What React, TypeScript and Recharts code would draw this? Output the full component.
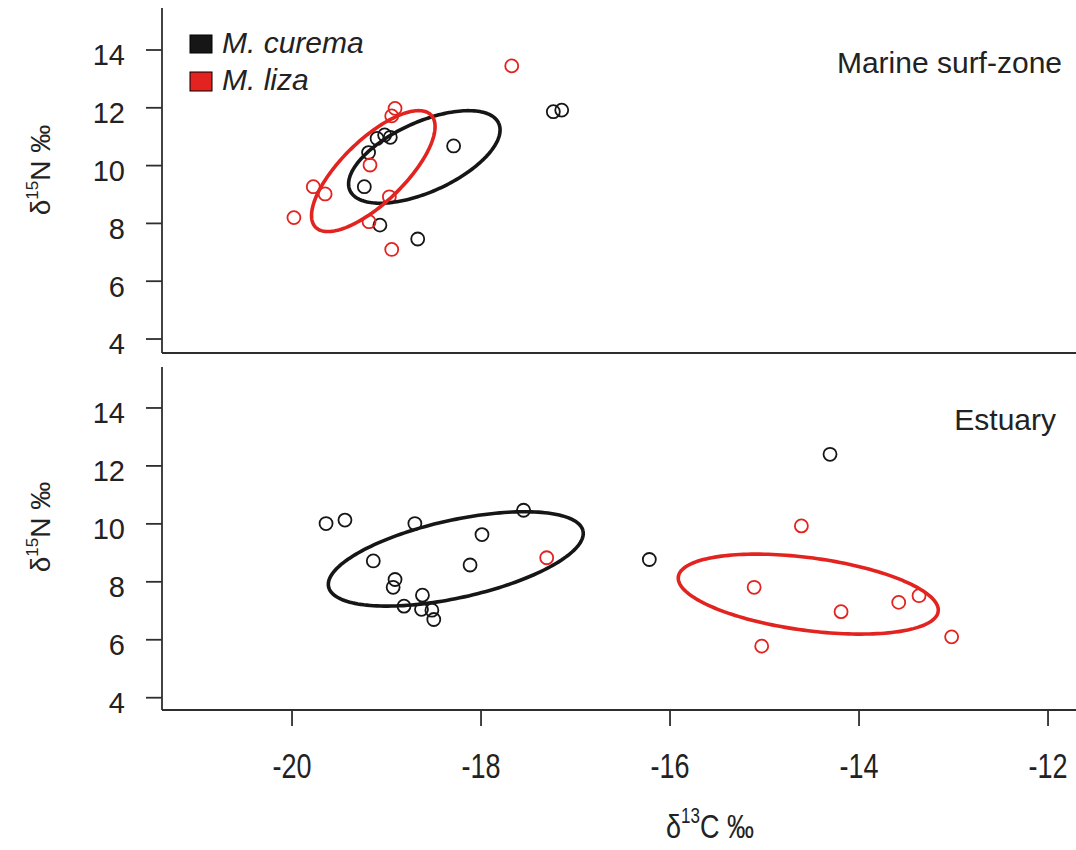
import { ScatterChart, Scatter, XAxis, YAxis } from 'recharts'

const FONT = '"Liberation Sans", Arial, Helvetica, sans-serif'
const BLACK = '#161616'
const RED = '#e2231f'
const AXIS = '#2e2e2e'

// δ13C / δ15N per fish, by site and species
const curemaMarine = [
  { x: -19.19, y: 10.45 }, { x: -19.1, y: 10.94 }, { x: -19.02, y: 11.06 }, { x: -18.96, y: 10.98 },
  { x: -18.29, y: 10.68 }, { x: -19.235, y: 9.27 }, { x: -19.07, y: 7.94 }, { x: -18.67, y: 7.46 },
  { x: -17.235, y: 11.865 }, { x: -17.146, y: 11.92 },
]
const lizaMarine = [
  { x: -17.675, y: 13.45 }, { x: -18.91, y: 11.98 }, { x: -18.945, y: 11.72 }, { x: -19.175, y: 10.02 },
  { x: -19.775, y: 9.27 }, { x: -19.65, y: 9.02 }, { x: -19.98, y: 8.2 }, { x: -18.97, y: 8.92 },
  { x: -19.185, y: 8.06 }, { x: -18.945, y: 7.1 },
]
const curemaEstuary = [
  { x: -19.64, y: 10.01 }, { x: -19.44, y: 10.13 }, { x: -18.7, y: 10.01 }, { x: -17.55, y: 10.47 },
  { x: -17.99, y: 9.63 }, { x: -19.14, y: 8.72 }, { x: -18.116, y: 8.58 }, { x: -18.91, y: 8.08 },
  { x: -18.93, y: 7.81 }, { x: -18.62, y: 7.54 }, { x: -18.815, y: 7.16 }, { x: -18.63, y: 7.05 },
  { x: -18.52, y: 7.02 }, { x: -18.5, y: 6.7 }, { x: -14.307, y: 12.4 }, { x: -16.219, y: 8.77 },
]
const lizaEstuary = [
  { x: -17.305, y: 8.83 }, { x: -14.61, y: 9.93 }, { x: -15.11, y: 7.81 }, { x: -14.19, y: 6.97 },
  { x: -13.58, y: 7.29 }, { x: -13.365, y: 7.52 }, { x: -13.02, y: 6.1 }, { x: -15.03, y: 5.78 },
]

// standard ellipses: centre plus two semi-axis vectors, all in data units
const ellCuremaMarine = { cx: -18.6, cy: 10.3, ax: 0.787, ay: 1.163, bx: -0.152, by: 1.1 }
const ellLizaMarine = { cx: -19.14, cy: 9.81, ax: 0.611, ay: 1.941, bx: -0.232, by: 0.779 }
const ellCuremaEstuary = { cx: -18.267, cy: 8.79, ax: 1.346, ay: 0.967, bx: -0.0886, by: 1.31 }
const ellLizaEstuary = { cx: -14.537, cy: 7.576, ax: 1.375, ay: -0.598, bx: 0.051, by: 1.244 }

const xTicks = [-20, -18, -16, -14, -12]
const yTicks = [4, 6, 8, 10, 12, 14]
const X_DOMAIN: [number, number] = [-21.376, -11.704]
const TOP_Y: [number, number] = [3.516, 15.453]
const BOTTOM_Y: [number, number] = [3.576, 15.414]

type Ell = { cx: number; cy: number; ax: number; ay: number; bx: number; by: number }

function outline(e: Ell, n = 180) {
  const pts = []
  for (let i = 0; i <= n; i++) {
    const t = (i / n) * Math.PI * 2
    pts.push({ x: e.cx + e.ax * Math.cos(t) + e.bx * Math.sin(t), y: e.cy + e.ay * Math.cos(t) + e.by * Math.sin(t) })
  }
  return pts
}

const ring = (color: string) => (p: any) =>
  <circle cx={p.cx} cy={p.cy} r={6.5} fill="none" stroke={color} strokeWidth={1.8} />

const noDot = () => <g />

function YTick({ x, y, payload }: any) {
  return (
    <text x={x} y={y + 5} dy="0.355em" textAnchor="end" fontSize={29} fill="#222" fontFamily={FONT}>
      {payload.value}
    </text>
  )
}

function XTick({ x, payload }: any) {
  return (
    <g transform={`translate(${x},778) scale(1,1.3)`}>
      <text x={0} y={0} textAnchor="middle" fontSize={27} fill="#222" fontFamily={FONT}>
        {payload.value}
      </text>
    </g>
  )
}

function Panel({ pts, ells, yDomain }: { pts: [any[], any[]]; ells: [Ell, Ell]; yDomain: [number, number] }) {
  return (
    <>
      <YAxis type="number" dataKey="y" domain={yDomain} ticks={yTicks} allowDataOverflow width={162}
        tickSize={16} tickMargin={21} tick={<YTick />}
        axisLine={{ stroke: AXIS, strokeWidth: 1.8 }} tickLine={{ stroke: AXIS, strokeWidth: 1.8 }} />
      <Scatter data={pts[0]} shape={ring(BLACK)} isAnimationActive={false} />
      <Scatter data={pts[1]} shape={ring(RED)} isAnimationActive={false} />
      <Scatter data={outline(ells[0])} shape={noDot} line={{ stroke: BLACK, strokeWidth: 3.6 }} isAnimationActive={false} />
      <Scatter data={outline(ells[1])} shape={noDot} line={{ stroke: RED, strokeWidth: 3.6 }} isAnimationActive={false} />
    </>
  )
}

function Delta({ iso, el }: { iso: string; el: string }) {
  return (
    <>
      δ<tspan fontSize={17} dy={-12}>{iso}</tspan><tspan dy={12}>{el} ‰</tspan>
    </>
  )
}

export default function App() {
  return (
    <div style={{ position: 'absolute', left: 0, top: 0, width: 1076, height: 850, background: '#fff', fontFamily: FONT }}>
      <div style={{ position: 'absolute', left: 0, top: 0 }}>
        <ScatterChart width={1076} height={370} margin={{ top: 8, right: 0, bottom: 0, left: 0 }}>
          <XAxis type="number" dataKey="x" domain={X_DOMAIN} ticks={xTicks} allowDataOverflow height={17}
            tick={false} tickSize={16}
            axisLine={{ stroke: AXIS, strokeWidth: 1.8 }} tickLine={{ stroke: AXIS, strokeWidth: 1.8 }} />
          {Panel({ pts: [curemaMarine, lizaMarine], ells: [ellCuremaMarine, ellLizaMarine], yDomain: TOP_Y })}
        </ScatterChart>
      </div>
      <div style={{ position: 'absolute', left: 0, top: 0 }}>
        <ScatterChart width={1076} height={850} margin={{ top: 367, right: 0, bottom: 0, left: 0 }}>
          <XAxis type="number" dataKey="x" domain={X_DOMAIN} ticks={xTicks} allowDataOverflow height={140}
            tick={<XTick />} tickSize={16}
            axisLine={{ stroke: AXIS, strokeWidth: 1.8 }} tickLine={{ stroke: AXIS, strokeWidth: 1.8 }} />
          {Panel({ pts: [curemaEstuary, lizaEstuary], ells: [ellCuremaEstuary, ellLizaEstuary], yDomain: BOTTOM_Y })}
        </ScatterChart>
      </div>

      <svg width={1076} height={850} style={{ position: 'absolute', left: 0, top: 0, pointerEvents: 'none' }}>
        <g fontFamily={FONT} fill="#222">
          <text x={0} y={0} fontSize={28} textAnchor="middle" transform="translate(50,170) rotate(-90)">
            <Delta iso="15" el="N" />
          </text>
          <text x={0} y={0} fontSize={28} textAnchor="middle" transform="translate(50,527) rotate(-90)">
            <Delta iso="15" el="N" />
          </text>
          <g transform="translate(710,838) scale(1,1.25)">
            <text x={0} y={0} fontSize={27} textAnchor="middle">
              <Delta iso="13" el="C" />
            </text>
          </g>
          <text x={1062} y={73} fontSize={30} textAnchor="end">Marine surf-zone</text>
          <text x={1056} y={430} fontSize={30} textAnchor="end">Estuary</text>

          <rect x={190} y={35} width={22} height={18} fill={BLACK} stroke="#000" strokeWidth={1} />
          <text x={222} y={53} fontSize={30} fontStyle="italic">M. curema</text>
          <rect x={190} y={72} width={22} height={19} fill={RED} stroke="#000" strokeWidth={1} />
          <text x={222} y={90} fontSize={30} fontStyle="italic">M. liza</text>
        </g>
      </svg>
    </div>
  )
}
